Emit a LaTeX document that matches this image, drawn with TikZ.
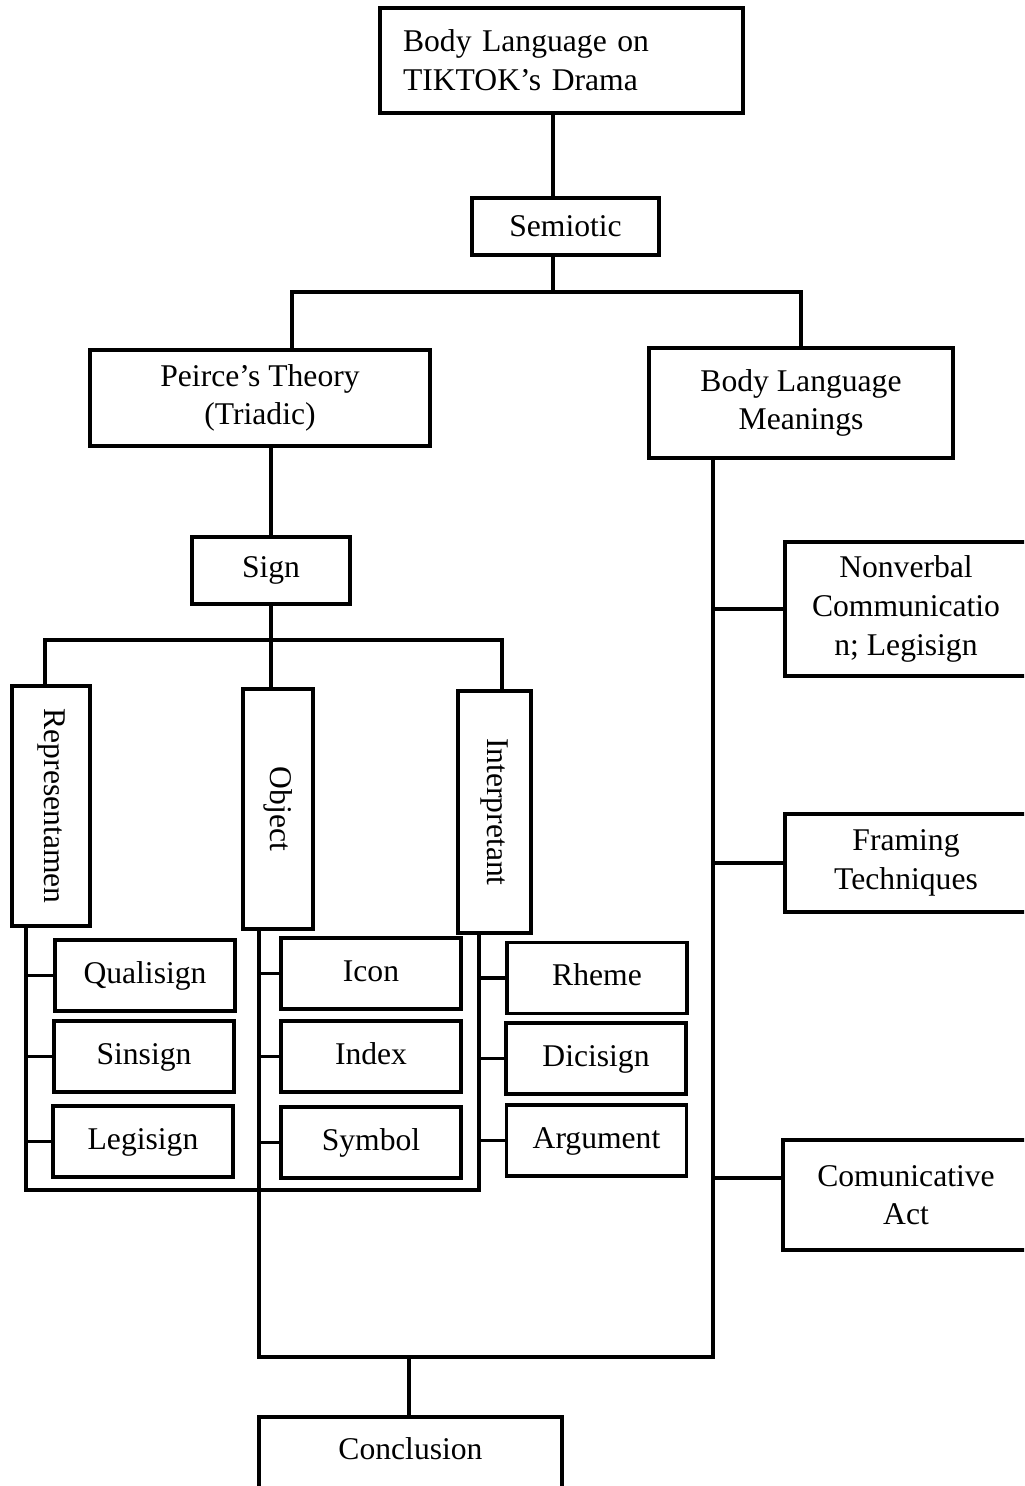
\documentclass[tikz,border=0pt]{standalone}
\usepackage{fontspec}
\setmainfont{Liberation Serif}
\usepackage{tikz}
\usetikzlibrary{positioning}
\tikzset{
	box/.style={rectangle, draw=black, line width=2.2pt, fill=white, align=center, inner sep=2pt, font=\fontsize{18}{22}\selectfont},
	small/.style={box, minimum width=3.6cm, minimum height=1.42cm, text height=0.45cm, text depth=0.15cm},
	side/.style={box, minimum width=4.84cm},
	line/.style={line width=2.2pt}
}

\begin{document}
\begin{tikzpicture}[x=0.02cm, y=-0.02cm]
		\clip (0,0) rectangle (1024,1486);
		
		% Topo
		\node[box, minimum width=7.26cm, minimum height=2.1cm, text width=6.34cm, align=left] (title) at (561.5,60.5) {Body Language on\\TIKTOK’s Drama};
		\node[box, minimum width=3.74cm, minimum height=1.14cm] (semiotic) at (565.5,226.5) {Semiotic};
		\node[box, minimum width=6.8cm, minimum height=1.92cm] (peirce) at (260,398) {Peirce’s Theory\\(Triadic)};
		\node[box, minimum width=6.08cm, minimum height=2.2cm] (meanings) at (801,403) {Body Language\\Meanings};
		\node[box, minimum width=3.16cm, minimum height=1.34cm] (sign) at (271,570.5) {Sign};
		
		% Triade
		\node[box, minimum width=1.56cm, minimum height=4.8cm] (repr) at (51,806) {\rotatebox{-90}{Representamen}};
		\node[box, minimum width=1.4cm, minimum height=4.8cm] (obj) at (278,809) {\rotatebox{-90}{Object}};
		\node[box, minimum width=1.46cm, minimum height=4.84cm] (interp) at (494.5,812) {\rotatebox{-90}{Interpretant}};
		
		% Tipos de signo
		\node[small] (quali) at (145,975.5) {Qualisign};
		\node[small] (sin) at (144,1056.5) {Sinsign};
		\node[small] (legi) at (143,1141.5) {Legisign};
		\node[small] (icon) at (371,973.5) {Icon};
		\node[small] (index) at (371,1056.5) {Index};
		\node[small] (symbol) at (371,1142.5) {Symbol};
		\node[small] (rheme) at (597,978) {Rheme};
		\node[small] (dici) at (596,1058.5) {Dicisign};
		\node[small] (argu) at (596.5,1140.5) {Argument};
		
		% Lado direito
		\node[side, minimum height=2.68cm] (nonverbal) at (906,609) {Nonverbal\\Communicatio\\n; Legisign};
		\node[side, minimum height=1.96cm] (framing) at (906,863) {Framing\\Techniques};
		\node[side, minimum width=4.92cm, minimum height=2.2cm] (comm) at (906,1195) {Comunicative\\Act};
		\node[box, minimum width=6.06cm, text height=0.56cm, text depth=1cm, inner ysep=8pt, anchor=north] (concl) at (410.5,1415) {Conclusion};
		
		% Pontos de juncao
		\coordinate (semi-j) at (553,292);
		\coordinate (sign-j) at (271,640);
		\coordinate (rep-end) at (26,1190);
		\coordinate (int-end) at (479,1190);
		\coordinate (obj-end) at (259,1357);
		\coordinate (mean-end) at (713,1357);
		\coordinate (end-j) at (409,1357);
		\coordinate (comm-in) at ([yshift=0.34cm]comm.west);
		
		% Ligacoes
		\draw[line] (title.south -| semi-j) -- (semiotic.north -| semi-j);
		\draw[line] (semiotic.south -| semi-j) -- (semi-j);
		\draw[line] ([xshift=0.64cm]peirce.north) |- (semi-j) -| (meanings.north);
		\draw[line] (peirce.south -| sign) -- (sign.north);
		\draw[line] (sign.south) -- (sign-j);
		\draw[line] ([xshift=-0.12cm]repr.north) |- (sign-j) -| ([xshift=0.15cm]interp.north);
		\draw[line] (sign-j) -- (obj.north -| sign-j);
		
		\draw[line] (repr.south -| rep-end) -- (rep-end) -- (int-end) -- (interp.south -| int-end);
		\draw[line] (obj.south -| obj-end) -- (obj-end) -- (mean-end) -- (meanings.south -| mean-end);
		\draw[line] (end-j) -- (concl.north -| end-j);
		
		\foreach \n in {quali, sin, legi}
			\draw[line] (rep-end |- \n.west) -- (\n.west);
		\foreach \n in {icon, index, symbol}
			\draw[line] (obj-end |- \n.west) -- (\n.west);
		\foreach \n in {rheme, dici, argu}
			\draw[line] (int-end |- \n.west) -- (\n.west);
		\foreach \n in {nonverbal, framing}
			\draw[line] (mean-end |- \n.west) -- (\n.west);
		\draw[line] (mean-end |- comm-in) -- (comm-in);
		
\end{tikzpicture}
\end{document}
